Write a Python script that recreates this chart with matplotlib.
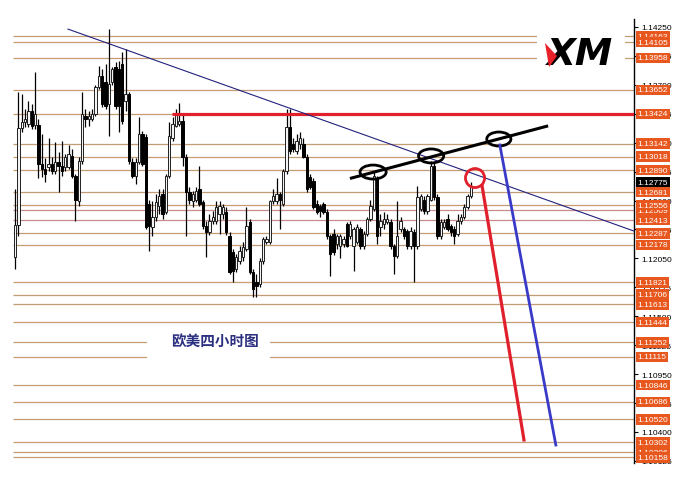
"""EURUSD 4-hour chart (MT4 style) with level lines, trend lines and projections."""
import numpy as np
import matplotlib
matplotlib.use("Agg")
import matplotlib.pyplot as plt
from matplotlib.patches import Ellipse, Rectangle, Polygon

# ---- candles (EURUSD H4) ----
opens = [1.1206, 1.1237, 1.1329, 1.1335, 1.1333, 1.1345, 1.1332, 1.1332, 1.1295, 1.1290,
         1.1292, 1.1295, 1.1288, 1.1297, 1.1293, 1.1292, 1.1292, 1.1302, 1.1283, 1.1260,
         1.1298, 1.1340, 1.1338, 1.1338, 1.1342, 1.1368, 1.1378, 1.1373, 1.1352, 1.1373,
         1.1387, 1.1385, 1.1390, 1.1355, 1.1361, 1.1297, 1.1283, 1.1297, 1.1323, 1.1320,
         1.1257, 1.1235, 1.1244, 1.1255, 1.1266, 1.1249, 1.1283, 1.1319, 1.1331, 1.1333,
         1.1336, 1.1301, 1.1268, 1.1260, 1.1261, 1.1271, 1.1259, 1.1236, 1.1230, 1.1241,
         1.1241, 1.1247, 1.1247, 1.1249, 1.1226, 1.1211, 1.1195, 1.1203, 1.1206, 1.1214,
         1.1240, 1.1192, 1.1183, 1.1181, 1.1203, 1.1221, 1.1221, 1.1260, 1.1260, 1.1266,
         1.1257, 1.1288, 1.1330, 1.1314, 1.1307, 1.1314, 1.1314, 1.1301, 1.1282, 1.1279,
         1.1257, 1.1255, 1.1257, 1.1249, 1.1226, 1.1228, 1.1219, 1.1217, 1.1219, 1.1238,
         1.1226, 1.1217, 1.1221, 1.1233, 1.1217, 1.1228, 1.1242, 1.1252, 1.1281, 1.1235,
         1.1238, 1.1240, 1.1240, 1.1217, 1.1207, 1.1233, 1.1233, 1.1231, 1.1217, 1.1230,
         1.1217, 1.1252, 1.1261, 1.1250, 1.1261, 1.1293, 1.1263, 1.1226, 1.1235, 1.1242,
         1.1236, 1.1233, 1.1228, 1.1241, 1.1244, 1.1254, 1.1264]
highs = [1.1271, 1.1363, 1.1361, 1.1347, 1.1355, 1.1352, 1.1382, 1.1338, 1.1323, 1.1300,
         1.1319, 1.1301, 1.1316, 1.1306, 1.1317, 1.1304, 1.1313, 1.1309, 1.1285, 1.1301,
         1.1363, 1.1347, 1.1345, 1.1347, 1.1370, 1.1388, 1.1385, 1.1390, 1.1423, 1.1387,
         1.1392, 1.1393, 1.1401, 1.1404, 1.1363, 1.1300, 1.1300, 1.1339, 1.1326, 1.1323,
         1.1261, 1.1260, 1.1266, 1.1271, 1.1271, 1.1285, 1.1335, 1.1339, 1.1347, 1.1353,
         1.1342, 1.1304, 1.1273, 1.1269, 1.1273, 1.1293, 1.1261, 1.1241, 1.1247, 1.1250,
         1.1260, 1.1260, 1.1257, 1.1254, 1.1230, 1.1214, 1.1209, 1.1217, 1.1221, 1.1254,
         1.1242, 1.1195, 1.1190, 1.1205, 1.1225, 1.1226, 1.1261, 1.1271, 1.1281, 1.1268,
         1.1290, 1.1347, 1.1347, 1.1319, 1.1323, 1.1325, 1.1319, 1.1304, 1.1285, 1.1281,
         1.1261, 1.1257, 1.1259, 1.1252, 1.1228, 1.1233, 1.1228, 1.1228, 1.1226, 1.1240,
         1.1241, 1.1235, 1.1238, 1.1235, 1.1231, 1.1244, 1.1261, 1.1287, 1.1283, 1.1247,
         1.1249, 1.1247, 1.1242, 1.1219, 1.1260, 1.1244, 1.1235, 1.1233, 1.1235, 1.1233,
         1.1274, 1.1266, 1.1264, 1.1266, 1.1298, 1.1297, 1.1266, 1.1242, 1.1242, 1.1247,
         1.1238, 1.1236, 1.1247, 1.1247, 1.1257, 1.1266, 1.1278]
lows = [1.1195, 1.1226, 1.1325, 1.1330, 1.1330, 1.1328, 1.1328, 1.1281, 1.1282, 1.1278,
        1.1288, 1.1285, 1.1285, 1.1268, 1.1283, 1.1288, 1.1290, 1.1281, 1.1241, 1.1255,
        1.1295, 1.1330, 1.1331, 1.1336, 1.1340, 1.1366, 1.1349, 1.1347, 1.1321, 1.1370,
        1.1347, 1.1325, 1.1333, 1.1345, 1.1295, 1.1281, 1.1276, 1.1295, 1.1293, 1.1233,
        1.1212, 1.1226, 1.1241, 1.1247, 1.1242, 1.1247, 1.1281, 1.1317, 1.1330, 1.1331,
        1.1293, 1.1226, 1.1257, 1.1254, 1.1259, 1.1255, 1.1233, 1.1206, 1.1227, 1.1238,
        1.1238, 1.1228, 1.1242, 1.1227, 1.1190, 1.1183, 1.1192, 1.1200, 1.1203, 1.1212,
        1.1190, 1.1168, 1.1168, 1.1178, 1.1200, 1.1219, 1.1219, 1.1257, 1.1257, 1.1233,
        1.1255, 1.1285, 1.1304, 1.1306, 1.1304, 1.1309, 1.1300, 1.1268, 1.1271, 1.1252,
        1.1247, 1.1244, 1.1247, 1.1223, 1.1188, 1.1208, 1.1214, 1.1205, 1.1216, 1.1216,
        1.1223, 1.1193, 1.1219, 1.1214, 1.1214, 1.1226, 1.1241, 1.1250, 1.1219, 1.1226,
        1.1233, 1.1238, 1.1214, 1.1190, 1.1205, 1.1230, 1.1223, 1.1214, 1.1214, 1.1183,
        1.1214, 1.1250, 1.1247, 1.1247, 1.1260, 1.1261, 1.1223, 1.1223, 1.1233, 1.1231,
        1.1226, 1.1219, 1.1226, 1.1238, 1.1242, 1.1252, 1.1262]
closes = [1.1237, 1.1329, 1.1335, 1.1338, 1.1345, 1.1331, 1.1342, 1.1295, 1.1290, 1.1285,
          1.1295, 1.1288, 1.1297, 1.1293, 1.1288, 1.1301, 1.1304, 1.1283, 1.1261, 1.1298,
          1.1342, 1.1338, 1.1340, 1.1342, 1.1368, 1.1378, 1.1352, 1.1350, 1.1371, 1.1385,
          1.1350, 1.1350, 1.1336, 1.1361, 1.1298, 1.1283, 1.1297, 1.1323, 1.1295, 1.1235,
          1.1236, 1.1244, 1.1259, 1.1264, 1.1247, 1.1283, 1.1321, 1.1333, 1.1342, 1.1336,
          1.1301, 1.1268, 1.1261, 1.1266, 1.1269, 1.1257, 1.1236, 1.1230, 1.1241, 1.1244,
          1.1254, 1.1255, 1.1254, 1.1230, 1.1192, 1.1193, 1.1206, 1.1212, 1.1216, 1.1236,
          1.1192, 1.1176, 1.1179, 1.1203, 1.1223, 1.1223, 1.1260, 1.1264, 1.1266, 1.1261,
          1.1288, 1.1330, 1.1307, 1.1309, 1.1317, 1.1319, 1.1301, 1.1271, 1.1273, 1.1254,
          1.1249, 1.1250, 1.1249, 1.1226, 1.1209, 1.1211, 1.1226, 1.1226, 1.1223, 1.1217,
          1.1238, 1.1233, 1.1235, 1.1217, 1.1228, 1.1242, 1.1255, 1.1283, 1.1226, 1.1241,
          1.1242, 1.1242, 1.1217, 1.1207, 1.1226, 1.1241, 1.1226, 1.1217, 1.1231, 1.1217,
          1.1263, 1.1264, 1.1250, 1.1264, 1.1293, 1.1263, 1.1226, 1.1240, 1.1240, 1.1233,
          1.1230, 1.1226, 1.1241, 1.1244, 1.1254, 1.1264, 1.1274]

# ---- horizontal levels with their orange price tags ----
levels = [1.14163, 1.14105, 1.13958, 1.13652, 1.13424, 1.13142, 1.13018, 1.12890,
          1.12681, 1.12556, 1.12509, 1.12413, 1.12287, 1.12178, 1.11821, 1.11706,
          1.11613, 1.11444, 1.11252, 1.11115, 1.10846, 1.10686, 1.10520, 1.10302,
          1.10206, 1.10158]
reddish_levels = [1.12509, 1.12413]
hidden_tags = [1.12509, 1.10206]   # tags half covered by their neighbours
current_price = 1.12775
key_level = 1.13424                 # thick red resistance
key_level_start = 46.8              # bar where it was drawn from

# axis ticks (MT4 grid step)
yticks = [1.10125, 1.10400, 1.10675, 1.10950, 1.11225, 1.11500, 1.11775, 1.12050,
          1.12325, 1.12600, 1.12875, 1.13150, 1.13425, 1.13700, 1.13975, 1.14250]

# ---- hand-drawn objects: (bar, price) pairs ----
down_trend = [(15.8, 1.1423), (184.6, 1.1231)]
up_trend = [(99.9, 1.1281), (159.0, 1.1331)]
black_marks = [(106.8, 1.12871, 7.8), (124.1, 1.13024, 7.5), (144.3, 1.13185, 7.2)]
red_mark = (137.2, 1.12814)
red_path = [(139.3, 1.12740), (151.8, 1.10324)]
blue_path = [(144.6, 1.13128), (161.3, 1.10276)]

W, H = 687, 485
fig = plt.figure(figsize=(W / 100, H / 100), dpi=100)
ax = fig.add_axes([0, (H - 464) / H, 634 / W, (464 - 20) / H])

DX = 3.353  # px per bar
ax.set_xlim(-15 / DX, (634 - 15) / DX)
ax.set_ylim(1.10105, 1.14326)
xmax = (634 - 15) / DX
px_y = (1.14326 - 1.10105) / 444  # price per pixel

# level lines
for lv in levels:
    col = "#c88c8c" if lv in reddish_levels else "#c49c74"
    ax.hlines(lv, -0.6, xmax, color=col, lw=0.9, zorder=1)
ax.hlines(key_level, key_level_start, xmax, color="#e0202c", lw=2.3, zorder=4)

# candles
o = np.array(opens); c = np.array(closes)
hi = np.array(highs); lo = np.array(lows)
x = np.arange(len(o))
up = c >= o
ax.vlines(x, lo, hi, color="black", lw=0.9, zorder=2)
ax.bar(x[up], (c - o)[up], bottom=o[up], width=0.7, color="#f4f4f4",
       edgecolor="#202020", lw=0.7, zorder=3)
ax.bar(x[~up], (o - c)[~up], bottom=c[~up], width=0.7, color="black",
       edgecolor="black", lw=0.7, zorder=3)

# trend lines and projections
ax.plot(*zip(*down_trend), color="#22227e", lw=0.8, zorder=4)
ax.plot(*zip(*up_trend), color="black", lw=2.2, zorder=5, solid_capstyle="butt")
for cx, cy, w in black_marks:
    ax.add_patch(Ellipse((cx, cy), w, 14 * px_y, fill=False, ec="black", lw=2, zorder=6))
ax.add_patch(Ellipse(red_mark, 5.7, 19 * px_y, fill=False, ec="#e0202c", lw=2, zorder=6))
ax.plot(*zip(*red_path), color="#e0202c", lw=2.3, zorder=6)
ax.plot(*zip(*blue_path), color="#3a3ac8", lw=2.0, zorder=6)

# title box
ax.add_patch(Rectangle((147 / 634, (464 - 362) / 444), 123 / 634, 32 / 444,
                       transform=ax.transAxes, fc="white", ec="none", zorder=7))
ax.text(215 / 634, (464 - 341) / 444, "欧美四小时图", transform=ax.transAxes,
        ha="center", va="center", fontsize=10.5, fontweight="bold", color="#2c3080",
        family=["Noto Sans CJK SC", "DejaVu Sans"], zorder=8)

# XM logo
fig.add_artist(Rectangle((537 / W, 1 - 80 / H), 88 / W, 50 / H, fc="white", ec="none",
                         transform=fig.transFigure, zorder=7))
fig.text(580 / W, 1 - 55 / H, "XM", ha="center", va="center", fontsize=27,
         fontweight="bold", fontstyle="italic", family="DejaVu Sans", color="black", zorder=8)
fig.add_artist(Polygon([(545 / W, 1 - 44 / H), (557 / W, 1 - 57 / H), (549 / W, 1 - 68 / H)],
                       closed=True, fc="#e8202a", ec="none", transform=fig.transFigure, zorder=9))

# right price axis
for s in ["left", "top", "bottom"]:
    ax.spines[s].set_visible(False)
ax.spines["right"].set_linewidth(1.0)
ax.set_xticks([])
ax.yaxis.tick_right()
ax.set_yticks(yticks)
ax.set_yticklabels([f"{v:.5f}" for v in yticks], fontsize=6, family="Liberation Sans")
ax.tick_params(axis="y", length=3, width=0.8, pad=2, direction="out")

tag_x = 1.0 + 3.5 / 634
for lv in levels:
    z = 9 if lv in hidden_tags else 10
    ax.text(tag_x, lv, f"{lv:.5f}", transform=ax.get_yaxis_transform(), ha="left",
            va="center", fontsize=6, family="Liberation Sans", color="white", zorder=z,
            clip_on=False, bbox=dict(boxstyle="square,pad=0.2", fc="#e8581e", ec="none"))
ax.text(tag_x, current_price, f"{current_price:.5f}", transform=ax.get_yaxis_transform(),
        ha="left", va="center", fontsize=6, family="Liberation Sans", color="white",
        zorder=11, clip_on=False, bbox=dict(boxstyle="square,pad=0.2", fc="black", ec="none"))

fig.savefig("out.png", dpi=100, facecolor="white")
